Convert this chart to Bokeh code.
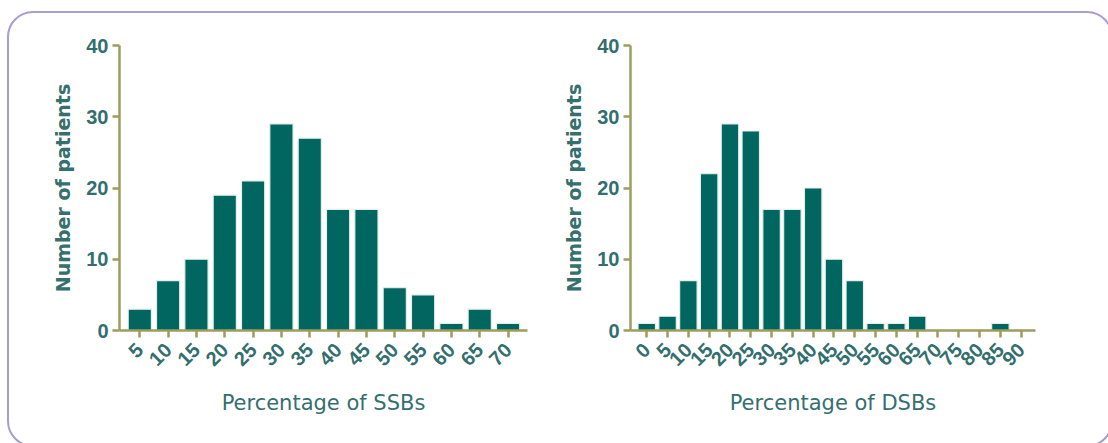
import math

from bokeh.embed import file_html
from bokeh.layouts import row
from bokeh.models import ColumnDataSource, FixedTicker, InlineStyleSheet, Range1d
from bokeh.plotting import figure
from bokeh.resources import INLINE

# Histogram of single-strand breaks (SSBs)
ssb_bins = [5, 10, 15, 20, 25, 30, 35, 40, 45, 50, 55, 60, 65, 70]
ssb_counts = [3, 7, 10, 19, 21, 29, 27, 17, 17, 6, 5, 1, 3, 1]

# Histogram of double-strand breaks (DSBs)
dsb_bins = [0, 5, 10, 15, 20, 25, 30, 35, 40, 45, 50, 55, 60, 65, 70, 75, 80, 85, 90]
dsb_counts = [1, 2, 7, 22, 29, 28, 17, 17, 20, 10, 7, 1, 1, 2, 0, 0, 0, 1, 0]

y_ticks = [0, 10, 20, 30, 40]
y_label = "Number of patients"
ssb_label = "Percentage of SSBs"
dsb_label = "Percentage of DSBs"

BAR = "#00665f"
BAR_EDGE = "#e3efec"
AXIS = "#9e9c5e"
TICK_TEXT = "#336f6e"
LABEL_TEXT = "#356f6e"
FRAME = "#a99bd3"


def histogram(bins, counts, xlabel, x_range, width, border_left,
              border_right, border_top, bar_width):
    p = figure(width=width, height=443, output_backend="svg", toolbar_location=None,
               x_range=Range1d(*x_range), y_range=Range1d(0, 40),
               min_border_left=border_left, min_border_right=border_right,
               min_border_top=border_top, min_border_bottom=113)
    p.outline_line_color = None
    p.grid.visible = False
    p.background_fill_color = None
    p.border_fill_color = None

    kept = [(b, c) for b, c in zip(bins, counts) if c > 0]
    src = ColumnDataSource(dict(x=[k[0] for k in kept], top=[k[1] for k in kept]))
    p.vbar(x="x", top="top", bottom=0, width=bar_width, source=src,
           fill_color=BAR, line_color=BAR_EDGE, line_width=1.2)

    xa = p.xaxis[0]
    xa.ticker = FixedTicker(ticks=bins)
    xa.major_label_orientation = math.pi / 4
    xa.axis_label = xlabel
    xa.axis_label_text_font = "DejaVu Sans"
    xa.axis_label_text_font_size = "21px"
    xa.axis_label_text_font_style = "normal"
    xa.axis_label_text_color = LABEL_TEXT
    xa.axis_label_standoff = 16
    xa.major_label_standoff = 9

    ya = p.yaxis[0]
    ya.ticker = FixedTicker(ticks=y_ticks)
    ya.axis_label = y_label
    ya.axis_label_text_font = "DejaVu Sans"
    ya.axis_label_text_font_size = "19px"
    ya.axis_label_text_font_style = "bold"
    ya.axis_label_text_color = LABEL_TEXT
    ya.axis_label_standoff = 9
    ya.major_label_standoff = 4

    for ax in (xa, ya):
        ax.axis_line_color = AXIS
        ax.axis_line_width = 2.5
        ax.major_tick_line_color = AXIS
        ax.major_tick_line_width = 2.5
        ax.major_tick_in = 0
        ax.major_tick_out = 7
        ax.minor_tick_line_color = None
        ax.major_label_text_font = "Liberation Sans"
        ax.major_label_text_font_size = "20px"
        ax.major_label_text_font_style = "bold"
        ax.major_label_text_color = TICK_TEXT
    return p


p1 = histogram(ssb_bins, ssb_counts, ssb_label, (1.42, 73.43), 560, 119, 33, 45, 4.1)
p2 = histogram(dsb_bins, dsb_counts, dsb_label, (-3.91, 93.44), 548, 64, 73, 43, 4.2)

# rounded panel frame around both charts
panel_css = InlineStyleSheet(css=f"""
:host {{ position: relative; overflow: hidden; background: white; }}
:host::after {{
  content: ""; position: absolute; box-sizing: border-box;
  left: 7px; top: 11px; right: -5px; bottom: -4px;
  width: auto; height: auto; max-width: none; max-height: none;
  border: 2.5px solid {FRAME}; border-radius: 26px;
  pointer-events: none; z-index: 10;
}}
""")

layout = row(p1, p2, spacing=0, stylesheets=[panel_css])
open("out.html", "w").write(file_html(layout, INLINE))
